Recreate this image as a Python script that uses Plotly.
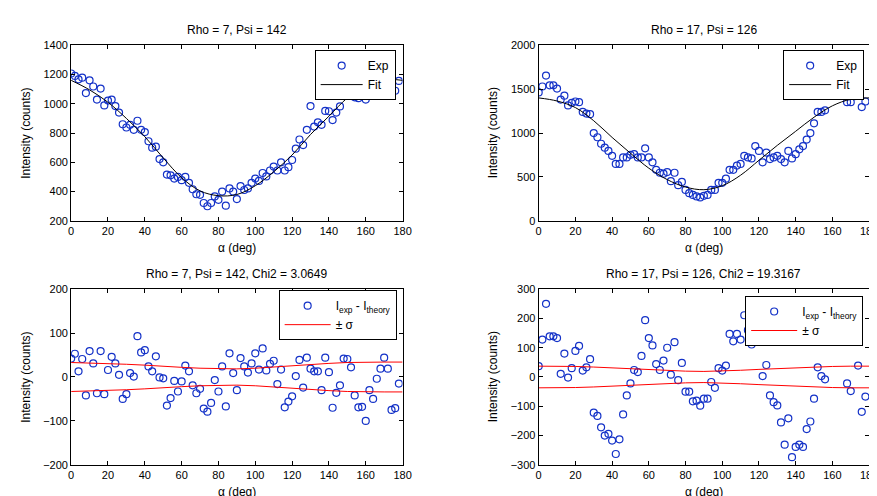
import plotly.graph_objects as go

# ---------------- data ----------------
alpha = [0, 2, 4, 6, 8, 10, 12, 14, 16, 18, 20, 22, 24, 26, 28, 30, 32, 34, 36, 38,
         40, 42, 44, 46, 48, 50, 52, 54, 56, 58, 60, 62, 64, 66, 68, 70, 72, 74, 76, 78,
         80, 82, 84, 86, 88, 90, 92, 94, 96, 98, 100, 102, 104, 106, 108, 110, 112, 114, 116, 118,
         120, 122, 124, 126, 128, 130, 132, 134, 136, 138, 140, 142, 144, 146, 148, 150, 152, 154, 156, 158,
         160, 162, 164, 166, 168, 170, 172, 174, 176, 178]

fit_alpha = [0, 10, 20, 30, 40, 50, 60, 70, 80, 90, 100, 110, 120, 130, 140, 150, 160, 170, 180]

# Rho = 7, Psi = 142
exp1 = [1207, 1190, 1167, 1178, 1073, 1160, 1118, 1029, 1104, 989, 1022, 1029, 984, 940, 860, 838, 856, 822, 884, 822,
        807, 744, 700, 707, 622, 600, 516, 511, 489, 500, 478, 500, 460, 416, 382, 378, 322, 300, 322, 367,
        344, 400, 304, 422, 400, 349, 438, 411, 422, 460, 489, 473, 527, 504, 544, 571, 544, 600, 544, 567,
        616, 693, 756, 718, 822, 984, 844, 873, 856, 951, 949, 889, 940, 982, 1067, 1093, 1078, 1044, 1038, 1056,
        1029, 1120, 1130, 1150, 1140, 1160, 1100, 1082, 1089, 1156]
fit1 = [1160, 1095, 1010, 900, 775, 630, 495, 405, 372, 380, 440, 535, 650, 790, 915, 1040, 1125, 1165, 1160]
res1 = [42, 53, 13, 41, -42, 59, 31, -37, 59, -39, 16, 46, 31, 5, -50, -39, 9, 1, 93, 56,
        61, 24, 13, 47, -1, -3, -65, -48, -9, -33, -10, 26, 13, -19, -37, -27, -72, -79, -59, -7,
        -33, 24, -67, 54, 9, -30, 43, 24, 10, 31, 54, 17, 65, 15, 30, 37, -16, 17, -69, -56,
        -44, 2, 39, -24, 44, 19, 13, 13, -30, 44, 11, -70, -36, -19, 42, 41, 22, -42, -69, -68,
        -100, -30, -50, -4, 19, 44, 19, -75, -71, -15]
sig1 = [33, 32, 30, 29, 27, 24, 22, 20, 18.5, 18.5, 20, 23, 26, 28, 31, 33, 34, 34, 34]

# Rho = 17, Psi = 126
exp2 = [1463, 1530, 1655, 1544, 1544, 1507, 1381, 1426, 1315, 1344, 1359, 1352, 1241, 1222, 1215, 1000, 952, 878, 833, 796,
        741, 648, 648, 722, 722, 752, 759, 722, 722, 826, 722, 667, 581, 548, 537, 556, 452, 548, 407, 444,
        352, 315, 296, 278, 267, 285, 296, 352, 352, 433, 433, 481, 581, 581, 630, 648, 741, 722, 711, 852,
        796, 667, 778, 704, 722, 741, 704, 667, 796, 711, 759, 815, 852, 926, 1000, 1111, 1241, 1241, 1259, 1463,
        1463, 1463, 1463, 1440, 1352, 1352, 1420, 1444, 1296, 1359]
fit2 = [1400, 1365, 1290, 1140, 950, 770, 600, 470, 385, 355, 400, 520, 690, 860, 1020, 1180, 1310, 1385, 1400]
res2 = [37, 128, 250, 139, 139, 133, 11, 80, -2, 30, 89, 106, 22, 33, 61, -122, -133, -172, -200, -194,
        -217, -263, -213, -128, -63, -22, 24, 17, 72, 194, 133, 108, 44, 24, 56, 100, 8, 119, -11, 48,
        -50, -50, -83, -81, -98, -74, -74, -17, -37, 30, 22, 39, 147, 122, 147, 128, 211, 160, 111, 140,
        125, 3, 41, -63, -86, -97, -155, -231, -141, -274, -239, -231, -239, -178, -152, -74, 33, 3, -8, 150,
        170, 125, 120, 120, -22, -48, 140, 39, -119, -67]
sig2 = [37, 37, 36, 34, 31, 28, 24.5, 22, 20, 19, 20, 23, 26, 29, 32, 34.5, 36, 37, 37]

titles = ["Rho = 7, Psi = 142", "Rho = 17, Psi = 126",
          "Rho = 7, Psi = 142, Chi2 = 3.0649", "Rho = 17, Psi = 126, Chi2 = 19.3167"]
xlabel = "\u03b1 (deg)"
ylabel = "Intensity (counts)"
xticks = [0, 20, 40, 60, 80, 100, 120, 140, 160, 180]
yticks1 = [200, 400, 600, 800, 1000, 1200, 1400]
yticks2 = [0, 500, 1000, 1500, 2000]
yticks3 = [-200, -100, 0, 100, 200]
yticks4 = [-300, -200, -100, 0, 100, 200, 300]

# ---------------- layout geometry (pixels) ----------------
W, H = 877, 496
boxes = {  # x0, x1, y0(top), y1(bottom)
    1: (61, 397, 32, 212),
    2: (535, 870, 32, 212),
    3: (61, 397, 282, 462),
    4: (535, 870, 282, 462),
}


def px(x):
    return x / W


def py(y):
    return 1 - y / H


BLUE = "rgb(20,50,200)"
FONT = "Liberation Sans, Arial, sans-serif"
MK = dict(symbol="circle-open", size=7, color=BLUE, line=dict(width=1.2))

fig = go.Figure()

# panel 1
fig.add_trace(go.Scatter(x=alpha, y=exp1, mode="markers", name="Exp", marker=MK,
                         xaxis="x", yaxis="y", legend="legend"))
fig.add_trace(go.Scatter(x=fit_alpha, y=fit1, mode="lines", name="Fit", line_shape="spline",
                         line=dict(color="black", width=1), xaxis="x", yaxis="y", legend="legend"))
# panel 2
fig.add_trace(go.Scatter(x=alpha, y=exp2, mode="markers", name="Exp", marker=MK,
                         xaxis="x2", yaxis="y2", legend="legend2"))
fig.add_trace(go.Scatter(x=fit_alpha, y=fit2, mode="lines", name="Fit", line_shape="spline",
                         line=dict(color="black", width=1), xaxis="x2", yaxis="y2", legend="legend2"))
# panel 3
fig.add_trace(go.Scatter(x=alpha, y=res1, mode="markers", name="I<sub>exp</sub> - I<sub>theory</sub>",
                         marker=MK, xaxis="x3", yaxis="y3", legend="legend3"))
fig.add_trace(go.Scatter(x=fit_alpha, y=sig1, mode="lines", name="\u00b1 \u03c3",
                         line=dict(color="red", width=1), xaxis="x3", yaxis="y3", legend="legend3"))
fig.add_trace(go.Scatter(x=fit_alpha, y=[-s for s in sig1], mode="lines", showlegend=False,
                         line=dict(color="red", width=1), xaxis="x3", yaxis="y3", legend="legend3"))
# panel 4
fig.add_trace(go.Scatter(x=alpha, y=res2, mode="markers", name="I<sub>exp</sub> - I<sub>theory</sub>",
                         marker=MK, xaxis="x4", yaxis="y4", legend="legend4"))
fig.add_trace(go.Scatter(x=fit_alpha, y=sig2, mode="lines", name="\u00b1 \u03c3",
                         line=dict(color="red", width=1), xaxis="x4", yaxis="y4", legend="legend4"))
fig.add_trace(go.Scatter(x=fit_alpha, y=[-s for s in sig2], mode="lines", showlegend=False,
                         line=dict(color="red", width=1), xaxis="x4", yaxis="y4", legend="legend4"))

axis_common = dict(showgrid=False, zeroline=False, showline=True, linecolor="black", linewidth=1,
                   mirror="ticks", ticks="inside", ticklen=4, tickcolor="black",
                   tickfont=dict(family=FONT, size=11, color="black"))

yinfo = {1: ([200, 1400], yticks1), 2: ([0, 2000], yticks2),
         3: ([-200, 200], yticks3), 4: ([-300, 300], yticks4)}

layout = dict(width=W, height=H, margin=dict(l=0, r=0, t=0, b=0),
              paper_bgcolor="white", plot_bgcolor="white",
              font=dict(family=FONT, size=12, color="black"))

annotations = []
for i in range(1, 5):
    x0, x1, y0, y1 = boxes[i]
    sfx = "" if i == 1 else str(i)
    layout["xaxis" + sfx] = dict(axis_common, domain=[px(x0), px(x1)], range=[0, 180],
                                 tickvals=xticks, anchor="y" + sfx)
    rng, tv = yinfo[i]
    layout["yaxis" + sfx] = dict(axis_common, domain=[py(y1), py(y0)], range=rng,
                                 tickvals=tv, anchor="x" + sfx)
    cx = (x0 + x1) / 2
    annotations.append(dict(text=titles[i - 1], x=px(cx), y=py(y0 - 16), xref="paper", yref="paper",
                            showarrow=False, font=dict(family=FONT, size=12, color="black"),
                            xanchor="center", yanchor="middle"))
    annotations.append(dict(text=xlabel, x=px(cx), y=py(y1 + 28), xref="paper", yref="paper",
                            showarrow=False, font=dict(family=FONT, size=12, color="black"),
                            xanchor="center", yanchor="middle"))
    annotations.append(dict(text=ylabel, x=px(x0 - 46), y=py((y0 + y1) / 2), xref="paper", yref="paper",
                            showarrow=False, font=dict(family=FONT, size=12, color="black"), textangle=-90,
                            xanchor="center", yanchor="middle"))

legend_common = dict(bgcolor="white", bordercolor="black", borderwidth=1,
                     font=dict(family=FONT, size=12, color="black"),
                     xanchor="right", yanchor="top", tracegroupgap=0)
layout["legend"] = dict(legend_common, x=px(390), y=py(37), itemwidth=42)
layout["legend2"] = dict(legend_common, x=px(865), y=py(37), itemwidth=42)
layout["legend3"] = dict(legend_common, x=px(391), y=py(283), itemwidth=46)
layout["legend4"] = dict(legend_common, x=px(864), y=py(289), itemwidth=46)
layout["annotations"] = annotations

fig.update_layout(**layout)
fig.write_html("out.html")
